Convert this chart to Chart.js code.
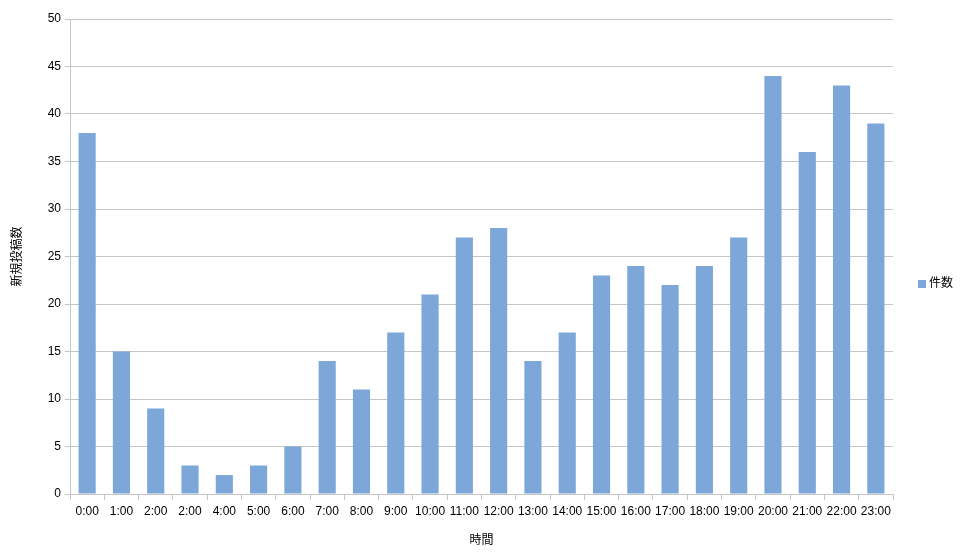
<!doctype html>
<html lang="ja">
<head>
<meta charset="utf-8">
<title>時間別 新規投稿数</title>
<script src="https://cdn.jsdelivr.net/npm/chart.js"></script>
<style>
  html, body { margin: 0; padding: 0; background: #fff; }
  #wrap { width: 960px; height: 552px; }
</style>
</head>
<body>
<div id="wrap"><canvas id="chart" width="960" height="552"></canvas></div>
<script>
    // data
    const hours = ["0:00", "1:00", "2:00", "2:00", "4:00", "5:00", "6:00", "7:00", "8:00", "9:00", "10:00", "11:00",
                   "12:00", "13:00", "14:00", "15:00", "16:00", "17:00", "18:00", "19:00", "20:00", "21:00", "22:00", "23:00"];
    const counts = [38, 15, 9, 3, 2, 3, 5, 14, 11, 17, 21, 27, 28, 14, 17, 23, 24, 22, 24, 27, 44, 36, 43, 39];
    const seriesName = "件数";
    const xTitle = "時間";
    const yTitle = "新規投稿数";
    const yMax = 50;
    const yStep = 5;

    const barColor = "#7da7d9";
    const gridColor = "#c6c6c6";
    const fontFamily = "'Liberation Sans', Arial, 'Noto Sans CJK JP', sans-serif";

    // legend drawn by hand on the right side
    const sideLegend = {
        id: "sideLegend",
        afterDraw(chart) {
            const ctx = chart.ctx;
            const ds = chart.data.datasets[0];
            const y = 284;
            ctx.save();
            ctx.fillStyle = ds.backgroundColor;
            ctx.fillRect(918, y - 4, 8, 8);
            ctx.fillStyle = "#000";
            ctx.font = "12px " + fontFamily;
            ctx.textBaseline = "middle";
            ctx.fillText(ds.label, 929, y);
            ctx.restore();
        }
    };

    new Chart(document.getElementById("chart").getContext("2d"), {
        type: "bar",
        data: {
            labels: hours,
            datasets: [{
                label: seriesName,
                data: counts,
                backgroundColor: barColor,
                borderWidth: 0,
                barPercentage: 0.5,
                categoryPercentage: 1
            }]
        },
        options: {
            responsive: false,
            animation: false,
            layout: { padding: { top: 19, right: 67, left: 0, bottom: 0 } },
            plugins: {
                legend: { display: false },
                tooltip: { enabled: false }
            },
            scales: {
                x: {
                    grid: {
                        display: true,
                        drawOnChartArea: false,
                        offset: true,
                        color: gridColor,
                        tickLength: 6
                    },
                    border: { color: gridColor },
                    ticks: {
                        color: "#000",
                        font: { family: fontFamily, size: 12 },
                        maxRotation: 0,
                        autoSkip: false,
                        padding: 4
                    },
                    title: {
                        display: true,
                        text: xTitle,
                        color: "#000",
                        font: { family: fontFamily, size: 12 },
                        padding: { top: 12 }
                    },
                    afterFit(scale) { scale.height = 58; }
                },
                y: {
                    min: 0,
                    max: yMax,
                    ticks: {
                        stepSize: yStep,
                        color: "#000",
                        font: { family: fontFamily, size: 12 },
                        padding: 4
                    },
                    grid: {
                        color: gridColor,
                        tickLength: 5
                    },
                    border: { color: gridColor },
                    title: {
                        display: true,
                        text: yTitle,
                        color: "#000",
                        font: { family: fontFamily, size: 12 },
                        padding: { top: 10, bottom: 6 }
                    },
                    afterFit(scale) { scale.width = 70; }
                }
            }
        },
        plugins: [sideLegend]
    });
</script>
</body>
</html>
